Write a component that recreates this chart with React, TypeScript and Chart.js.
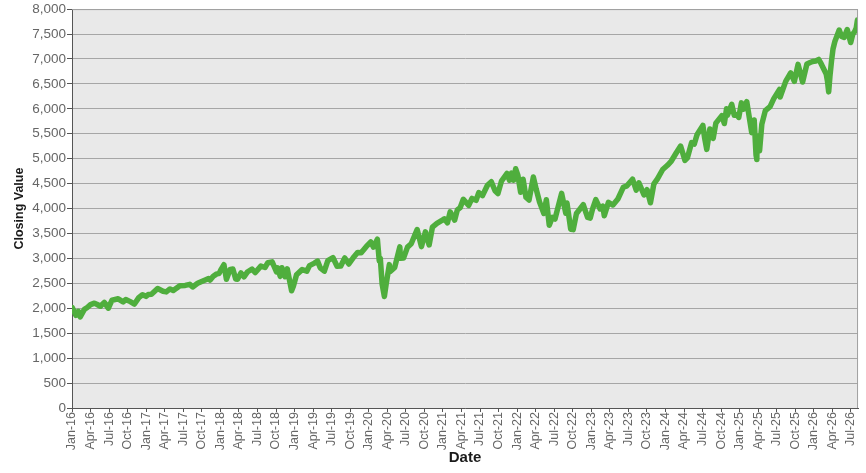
import { useEffect, useRef } from 'react';
import { Chart, registerables } from 'chart.js';

Chart.register(...registerables);

// Closing values, roughly semi-monthly: [month within year, close]
const y2016: [number, number][] = [
  [0.05, 2012], [0.63, 1859], [1.0, 1940], [1.33, 1829], [2.0, 1978], [2.47, 2015],
  [3.0, 2073], [3.63, 2102], [4.0, 2081], [4.6, 2040], [5.23, 2119], [5.87, 2001],
  [6.47, 2162], [7.47, 2190], [8.27, 2128], [8.7, 2177], [9.43, 2133], [10.1, 2085],
  [10.8, 2213], [11.4, 2271], [11.97, 2239],
];
const y2017: [number, number][] = [
  [0.32, 2275], [0.85, 2279], [1.85, 2395], [2.72, 2341], [3.25, 2329], [3.85, 2388],
  [4.38, 2357], [5.45, 2453], [6.32, 2459], [7.05, 2480], [7.52, 2428], [8.32, 2500],
  [9.35, 2557], [10.08, 2594], [10.32, 2565], [10.85, 2642], [11.42, 2690], [11.78, 2695],
];
const y2018: [number, number][] = [
  [0.15, 2786], [0.58, 2873], [0.98, 2581], [1.58, 2780], [2.02, 2786], [2.48, 2588],
  [2.78, 2582], [3.32, 2708], [3.82, 2630], [4.42, 2733], [5.12, 2786], [5.65, 2716],
  [6.55, 2846], [7.22, 2818], [7.68, 2914], [8.38, 2931], [9.08, 2728], [9.28, 2809],
  [9.68, 2641], [9.95, 2813], [10.48, 2633], [10.82, 2790], [11.52, 2351], [11.82, 2448],
];
const y2019: [number, number][] = [
  [0.32, 2671], [1.22, 2775], [1.98, 2743], [2.42, 2855], [3.22, 2905], [3.72, 2946],
  [4.15, 2812], [4.82, 2744], [5.38, 2954], [6.22, 3014], [6.88, 2844], [7.48, 2847],
  [8.12, 3010], [8.78, 2888], [9.65, 3039], [10.22, 3120], [10.78, 3114], [11.62, 3240],
];
const y2020: [number, number][] = [
  [0.33, 3330], [0.77, 3226], [1.4, 3386], [1.7, 2954], [1.87, 3003], [2.17, 2481],
  [2.53, 2237], [2.8, 2470], [3.33, 2875], [3.47, 2737], [4.2, 2820], [5.03, 3232],
  [5.13, 3002], [5.63, 3009], [6.27, 3226], [6.87, 3294], [7.83, 3580], [8.53, 3237],
  [9.17, 3534], [9.77, 3270], [10.3, 3627], [11.03, 3702], [11.77, 3756],
];
const y2021: [number, number][] = [
  [0.23, 3795], [0.73, 3714], [1.17, 3934], [1.9, 3768], [2.33, 3974], [2.8, 4020],
  [3.3, 4185], [4.17, 4063], [4.7, 4204], [5.37, 4166], [5.8, 4320], [6.4, 4258],
  [7.2, 4468], [7.83, 4537], [8.43, 4358], [8.9, 4300], [9.47, 4550], [10.37, 4704],
  [10.77, 4567], [11.1, 4712], [11.43, 4568], [11.77, 4797],
];
const y2022: [number, number][] = [
  [0.13, 4663], [0.57, 4327], [0.97, 4587], [1.43, 4226], [1.93, 4170], [2.63, 4632],
  [3.07, 4397], [3.63, 4132], [4.33, 3901], [4.73, 4176], [5.2, 3667], [5.7, 3825],
  [6.13, 3790], [7.2, 4305], [7.87, 3908], [8.07, 4110], [8.67, 3586], [9.07, 3577],
  [9.6, 3901], [10.17, 3992], [10.7, 4076], [11.4, 3822], [11.83, 3808],
];
const y2023: [number, number][] = [
  [0.2, 3990], [0.73, 4179], [1.43, 3991], [1.87, 4048], [2.1, 3855], [2.77, 4124],
  [3.5, 4071], [4.3, 4192], [5.17, 4426], [5.77, 4455], [6.67, 4589], [7.27, 4370],
  [7.7, 4515], [8.53, 4274], [9.03, 4377], [9.57, 4117], [10.13, 4496], [10.7, 4595],
  [11.55, 4783],
];
const y2024: [number, number][] = [
  [0.32, 4868], [0.95, 4953], [1.78, 5124], [2.45, 5254], [3.15, 4967], [3.55, 5018],
  [4.22, 5321], [4.65, 5291], [5.12, 5487], [6.05, 5667], [6.32, 5427], [6.68, 5186],
  [7.18, 5597], [7.72, 5408], [8.15, 5713], [9.12, 5864], [9.52, 5705], [9.88, 6001],
  [10.02, 5870], [10.72, 6090], [11.12, 5872], [11.52, 5882], [11.85, 5827],
];
const y2025: [number, number][] = [
  [0.28, 6119], [0.62, 5994], [1.15, 6144], [1.95, 5522], [2.35, 5777], [2.65, 5074],
  [2.78, 4983], [2.82, 5457], [3.22, 5158], [3.58, 5687], [4.15, 5964], [4.92, 6045],
  [5.52, 6205], [6.45, 6390], [6.55, 6238], [7.45, 6550], [8.25, 6720], [8.85, 6552],
  [9.45, 6891], [10.18, 6538], [10.88, 6901], [11.4, 6930], [11.8, 6950],
];
const y2026: [number, number][] = [
  [0.3, 6960], [0.8, 6990], [1.2, 6900], [1.6, 6800], [2.0, 6700], [2.2, 6560],
  [2.4, 6340], [2.6, 6650], [2.85, 6950], [3.1, 7200], [3.4, 7350], [3.8, 7480],
  [4.1, 7580], [4.5, 7450], [4.9, 7430], [5.4, 7590], [5.7, 7450], [5.96, 7330],
  [6.3, 7500], [6.6, 7550], [6.85, 7620], [7.05, 7780],
];

const years: [number, [number, number][]][] = [
  [2016, y2016], [2017, y2017], [2018, y2018], [2019, y2019], [2020, y2020], [2021, y2021],
  [2022, y2022], [2023, y2023], [2024, y2024], [2025, y2025], [2026, y2026],
];

const monthNames = ['Jan', 'Apr', 'Jul', 'Oct'];
const tickYears = [16, 17, 18, 19, 20, 21, 22, 23, 24, 25, 26];
const yTicks = [0, 500, 1000, 1500, 2000, 2500, 3000, 3500, 4000, 4500, 5000, 5500, 6000, 6500, 7000, 7500, 8000];

const FONT = "'Liberation Sans', Arial, Helvetica, sans-serif";

export default function App() {
  const ref = useRef<HTMLCanvasElement | null>(null);

  useEffect(() => {
    document.body.style.margin = '0';
    const canvas = ref.current;
    if (!canvas) return;

    const points = years.flatMap(([yr, arr]) =>
      arr.map(([m, v]) => ({ x: (yr - 2016) * 12 + m, y: v }))
    );

    const tickLabels: { value: number; label: string }[] = [];
    tickYears.forEach((yy, yi) => {
      monthNames.forEach((mn, qi) => {
        const value = yi * 12 + qi * 3;
        if (value <= 126) tickLabels.push({ value, label: `${mn}-${yy}` });
      });
    });

    const bgPlugin = {
      id: 'plotBg',
      beforeDraw(chart: any) {
        const { ctx, chartArea } = chart;
        ctx.save();
        ctx.fillStyle = '#e9e9e9';
        ctx.fillRect(chartArea.left, chartArea.top, chartArea.right - chartArea.left, chartArea.bottom - chartArea.top);
        ctx.restore();
      },
      afterDatasetsDraw(chart: any) {
        const { ctx, chartArea } = chart;
        ctx.save();
        ctx.strokeStyle = '#a0a0a0';
        ctx.lineWidth = 1;
        ctx.beginPath();
        ctx.moveTo(chartArea.left, chartArea.top + 0.5);
        ctx.lineTo(chartArea.right - 0.5, chartArea.top + 0.5);
        ctx.lineTo(chartArea.right - 0.5, chartArea.bottom);
        ctx.stroke();
        ctx.restore();
      },
    };

    const chart = new Chart(canvas, {
      type: 'line',
      data: {
        datasets: [
          {
            label: 'Closing Value',
            data: points,
            borderColor: '#4fae3d',
            backgroundColor: '#4fae3d',
            borderWidth: 5.5,
            borderJoinStyle: 'round',
            borderCapStyle: 'round',
            pointRadius: 0,
            tension: 0,
            fill: false,
          },
        ],
      },
      options: {
        responsive: false,
        animation: false,
        parsing: false,
        layout: { padding: { top: 8, right: 7, left: 0, bottom: 0 } },
        plugins: {
          legend: { display: false },
          tooltip: { enabled: false },
        },
        scales: {
          x: {
            type: 'linear',
            min: 0,
            max: 127.15,
            afterBuildTicks(scale: any) {
              scale.ticks = tickLabels.map((t) => ({ value: t.value }));
            },
            afterFit(scale: any) {
              scale.height = 65;
            },
            ticks: {
              autoSkip: false,
              minRotation: 90,
              maxRotation: 90,
              padding: 0,
              color: '#666666',
              font: { family: FONT, size: 12.5 },
              callback(value: any) {
                const t = tickLabels.find((tl) => tl.value === value);
                return t ? t.label : '';
              },
            },
            grid: {
              drawOnChartArea: false,
              drawTicks: true,
              tickLength: 4,
              color: '#555555',
            },
            border: { display: true, color: '#555555', width: 1 },
            title: {
              display: true,
              text: 'Date',
              color: '#1a1a1a',
              font: { family: FONT, size: 15, weight: 'bold' },
              padding: { top: 0, bottom: 6 },
            },
          },
          y: {
            min: 0,
            max: 8000,
            afterBuildTicks(scale: any) {
              scale.ticks = yTicks.map((v) => ({ value: v }));
            },
            afterFit(scale: any) {
              scale.width = 72;
            },
            ticks: {
              padding: 1,
              color: '#666666',
              font: { family: FONT, size: 13.5 },
              callback(value: any) {
                return Number(value).toLocaleString('en-US');
              },
            },
            grid: {
              color: '#a6a6a6',
              lineWidth: 1,
              drawTicks: true,
              tickLength: 5,
              tickColor: '#555555',
            },
            border: { display: true, color: '#555555', width: 1 },
            title: {
              display: true,
              text: 'Closing Value',
              color: '#1a1a1a',
              font: { family: FONT, size: 12.5, weight: 'bold' },
              padding: { top: 12, bottom: 0 },
            },
          },
        },
      },
      plugins: [bgPlugin],
    });

    return () => chart.destroy();
  }, []);

  return (
    <div style={{ width: 866, height: 473, background: '#ffffff' }}>
      <canvas ref={ref} width={866} height={473} style={{ display: 'block' }} />
    </div>
  );
}
